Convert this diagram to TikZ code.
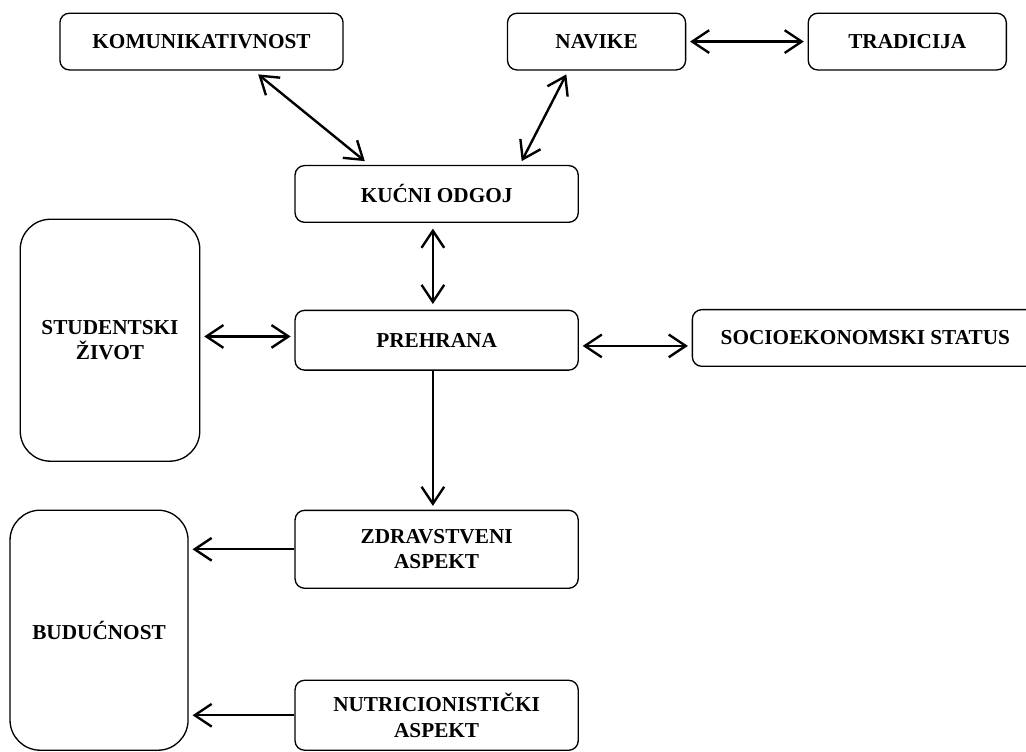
\documentclass[tikz,border=0pt]{standalone}
\usepackage{fontspec}
\setmainfont{Liberation Serif}
\usetikzlibrary{shapes,arrows.meta,positioning,calc}

\begin{document}
\begin{tikzpicture}[
    box/.style={draw, rectangle, rounded corners=0.25cm, line width=1pt, minimum width=7.49cm, minimum height=1.5cm, align=center, font=\fontsize{16}{19}\selectfont\bfseries},
    bigbox/.style={box, rounded corners=0.8cm, minimum width=4.75cm, minimum height=6.4cm},
    >={Straight Barb[length=4.5mm, width=6mm]},
    every path/.style={line width=1.8pt}
]
    \useasboundingbox (0,0) rectangle (27.14,-19.87);

    % Top row
    \node[box] (komunik) at (5.33,-1.10) {KOMUNIKATIVNOST};
    \node[box, minimum width=4.71cm] (navike) at (15.78,-1.10) {NAVIKE};
    \node[box, minimum width=5.24cm] (tradicija) at (24.0,-1.10) {TRADICIJA};

    % Middle
    \node[box] (kucni) at (11.55,-5.13) {KUĆNI ODGOJ};
    \node[bigbox] (student) at (2.91,-9.0) {STUDENTSKI\\ŽIVOT};
    \node[box, minimum height=1.58cm] (prehrana) at (11.55,-9.0) {PREHRANA};
    \node[box, minimum width=9.15cm] (socio) at (22.89,-8.94) {SOCIOEKONOMSKI STATUS};

    % Bottom
    \node[box, minimum height=2.06cm] (zdrav) at (11.55,-14.53) {ZDRAVSTVENI\\ASPEKT};
    \node[bigbox, minimum width=4.71cm, minimum height=6.35cm] (buducnost) at (2.62,-16.67) {BUDUĆNOST};
    \node[box, minimum height=1.85cm] (nutri) at (11.55,-18.92) {NUTRICIONISTIČKI\\ASPEKT};

    % Arrows
    \draw[<->] ([xshift=1.5cm,yshift=-1mm]komunik.south) -- ([xshift=-1.9cm,yshift=1mm]kucni.north);
    \draw[<->] ([xshift=-0.8cm,yshift=-1mm]navike.south) -- ([xshift=2.25cm,yshift=1mm]kucni.north);
    \draw[<->] ([xshift=1mm]navike.east) -- ([xshift=-1mm]tradicija.west);
    \draw[<->] ([xshift=-1mm,yshift=-1.5mm]kucni.south) -- ([xshift=-1mm,yshift=1.5mm]prehrana.north);
    \draw[<->] ([xshift=1mm,yshift=1mm]student.east) -- ([xshift=-1mm,yshift=1mm]prehrana.west);
    \draw[<->] ($(prehrana.east)+(0.1,-0.15)$) -- ($(prehrana.east -| socio.west)+(-0.1,-0.15)$);
    \draw[->] ([xshift=-1mm]prehrana.south) -- ([xshift=-1mm,yshift=1mm]zdrav.north);
    \draw[->] (zdrav.west) -- ($(zdrav.west -| buducnost.east)+(0.1,0)$);
    \draw[->] (nutri.west) -- ($(nutri.west -| buducnost.east)+(0.1,0)$);
\end{tikzpicture}
\end{document}
